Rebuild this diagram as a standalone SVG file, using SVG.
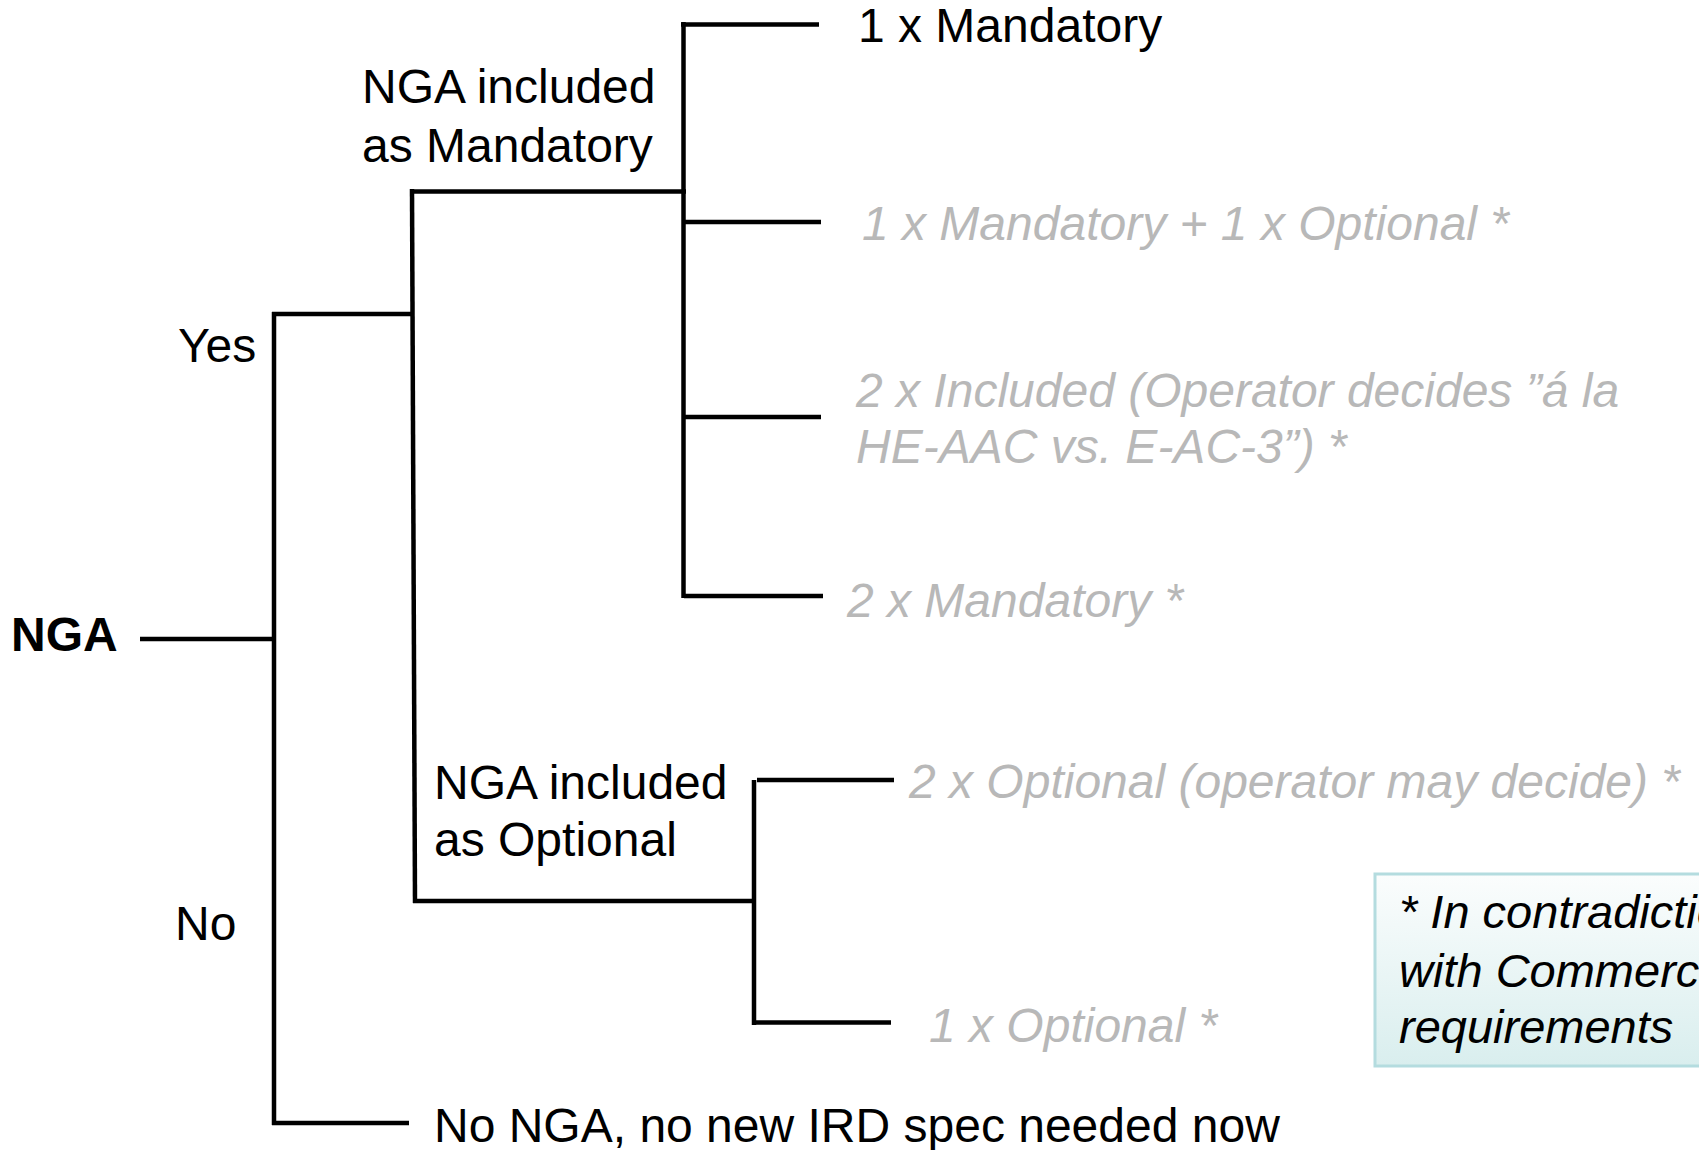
<svg xmlns="http://www.w3.org/2000/svg" width="1699" height="1150" viewBox="0 0 1699 1150">
  <defs>
    <linearGradient id="noteFill" x1="0" y1="0" x2="0" y2="1">
      <stop offset="0" stop-color="#fbfdfd"/>
      <stop offset="1" stop-color="#d9eeee"/>
    </linearGradient>
    <style>
      text { font-family: "Liberation Sans", Arial, sans-serif; font-size: 48px; fill: #000; }
      .bold { font-weight: bold; }
      .alt { font-style: italic; fill: #b8b8b8; }
      .note { font-style: italic; fill: #000; font-size: 47px; }
      .wire { stroke: #000; stroke-width: 4.5; fill: none; stroke-linecap: butt; }
      .notebox { fill: url(#noteFill); stroke: #b4dcdf; stroke-width: 3; }
    </style>
  </defs>
  <rect width="1699" height="1150" fill="#fff"/>

  <!-- tree connectors -->
  <g id="connectors">
    <path class="wire" d="M140 639 H274"/>
    <path class="wire" d="M274 312 V1125"/>
    <path class="wire" d="M272 314 H414"/>
    <path class="wire" d="M272 1123 H409"/>
    <path class="wire" d="M412 189 L415 903"/>
    <path class="wire" d="M410 191.5 H686"/>
    <path class="wire" d="M683.5 22 V598"/>
    <path class="wire" d="M681 24.5 H819"/>
    <path class="wire" d="M684 222 H821"/>
    <path class="wire" d="M684 417 H821"/>
    <path class="wire" d="M684 596 H823"/>
    <path class="wire" d="M413 901 H756"/>
    <path class="wire" d="M754 780 V1025"/>
    <path class="wire" d="M757 780 H894"/>
    <path class="wire" d="M752 1022.5 H891"/>
  </g>

  <g id="root">
    <text class="bold" x="11" y="651">NGA</text>
  </g>
  <g id="yes">
    <text x="178" y="362">Yes</text>
  </g>
  <g id="no">
    <text x="175" y="940">No</text>
  </g>
  <g id="mandatory">
    <text x="362" y="103">NGA included</text>
    <text x="362" y="162">as Mandatory</text>
  </g>
  <g id="optional">
    <text x="434" y="799">NGA included</text>
    <text x="434" y="856">as Optional</text>
  </g>
  <g id="no-nga">
    <text x="434" y="1142">No NGA, no new IRD spec needed now</text>
  </g>

  <g id="m1">
    <text x="858" y="42">1 x Mandatory</text>
  </g>
  <g id="m1o1">
    <text class="alt" x="862" y="240">1 x Mandatory + 1 x Optional *</text>
  </g>
  <g id="i2">
    <text class="alt" x="856" y="407">2 x Included (Operator decides ”á la</text>
    <text class="alt" x="856" y="463">HE-AAC vs. E-AC-3”) *</text>
  </g>
  <g id="m2">
    <text class="alt" x="847" y="617">2 x Mandatory *</text>
  </g>
  <g id="o2">
    <text class="alt" x="909" y="798">2 x Optional (operator may decide) *</text>
  </g>
  <g id="o1">
    <text class="alt" x="929" y="1042">1 x Optional *</text>
  </g>

  <g id="note">
    <rect class="notebox" x="1375" y="874" width="400" height="192"/>
    <text class="note" x="1399" y="928">* In contradiction</text>
    <text class="note" x="1399" y="987">with Commercial</text>
    <text class="note" x="1399" y="1043">requirements</text>
  </g>
</svg>
